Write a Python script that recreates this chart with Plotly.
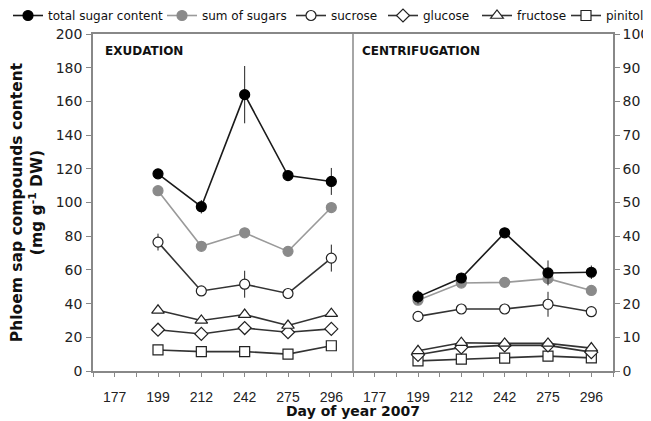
import plotly.graph_objects as go

days = [177, 199, 212, 242, 275, 296]
sample_days = [199, 212, 242, 275, 296]
series_names = ["total sugar content", "sum of sugars", "sucrose", "glucose", "fructose", "pinitol"]
panel_names = ["EXUDATION", "CENTRIFUGATION"]

# Exudation (left axis, mg g-1 DW)
exu_total = [117, 97.5, 164, 116, 112.5]
exu_total_err = [2, 4, 17, 2, 8]
exu_sum = [107, 74, 82, 71, 97]
exu_sucrose = [76.5, 47.5, 51.5, 46, 67]
exu_sucrose_err = [5, 2, 8, 3, 8]
exu_glucose = [24.5, 22, 25.5, 23, 25]
exu_fructose = [36, 30, 33.5, 27, 34]
exu_pinitol = [12.5, 11.5, 11.5, 10, 15]

# Centrifugation (right axis, mg g-1 DW)
cen_total = [22.0, 27.6, 41, 29.1, 29.3]
cen_total_err = [2, 1.5, 1, 3.7, 2]
cen_sum = [21.0, 26.1, 26.3, 27.4, 23.9]
cen_sucrose = [16.2, 18.4, 18.4, 19.8, 17.6]
cen_sucrose_err = [0.8, 1, 1.5, 3.7, 0.8]
cen_glucose = [4.8, 7.0, 7.6, 7.6, 5.6]
cen_fructose = [6.0, 8.4, 8.2, 8.2, 6.8]
cen_pinitol = [3.0, 3.5, 3.8, 4.4, 3.9]

exu = [exu_total, exu_sum, exu_sucrose, exu_glucose, exu_fructose, exu_pinitol]
cen = [cen_total, cen_sum, cen_sucrose, cen_glucose, cen_fructose, cen_pinitol]
exu_err = [exu_total_err, None, exu_sucrose_err, None, None, None]
cen_err = [cen_total_err, None, cen_sucrose_err, None, None, None]

styles = [
    dict(symbol="circle", color="black", fill="black", line="#1a1a1a", size=10),
    dict(symbol="circle", color="#8a8a8a", fill="#8a8a8a", line="#9a9a9a", size=10),
    dict(symbol="circle", color="#222", fill="white", line="#333", size=10),
    dict(symbol="diamond", color="#222", fill="white", line="#333", size=10),
    dict(symbol="triangle-up", color="#222", fill="white", line="#333", size=11),
    dict(symbol="square", color="#222", fill="white", line="#333", size=10),
]

# category positions: left panel 0..5, right panel 6..11
left_x = [days.index(d) for d in sample_days]
right_x = [len(days) + days.index(d) for d in sample_days]

W, H = 651, 421
ML, MR, MT, MB = 85, 46, 26, 58
legend_x_px = [0, 154, 283, 375, 469, 558]

fig = go.Figure()
order = [5, 3, 4, 2, 1, 0]
for i in order:
    st = styles[i]
    marker = dict(symbol=st["symbol"], size=st["size"], color=st["fill"],
                  line=dict(color=st["color"], width=1.2))
    lg = "legend" if i == 0 else f"legend{i+1}"
    for panel, (xs, ys, errs, yax) in enumerate([(left_x, exu[i], exu_err[i], "y"),
                                                   (right_x, cen[i], cen_err[i], "y2")]):
        fig.add_trace(go.Scatter(
            x=xs, y=ys, mode="lines+markers", name=series_names[i],
            yaxis=yax, legend=lg, showlegend=(panel == 0),
            line=dict(color=st["line"], width=1.6),
            marker=marker,
            error_y=dict(type="data", array=errs, visible=errs is not None,
                         color="#222", thickness=1, width=0),
        ))

font_family = "DejaVu Sans, Verdana, sans-serif"
arial = "Liberation Sans, Arial, sans-serif"
pw = W - ML - MR
ph = H - MT - MB
layout_legends = {}
for i in range(6):
    key = "legend" if i == 0 else f"legend{i+1}"
    layout_legends[key] = dict(
        x=(legend_x_px[i] - ML) / pw, xref="paper", xanchor="left",
        y=1 + (MT + 7) / ph, yref="paper", yanchor="top",
        orientation="h", bgcolor="rgba(0,0,0,0)",
        font=dict(family=font_family, size=12, color="#111"),
        itemwidth=30,
    )

fig.update_layout(
    width=W, height=H,
    margin=dict(l=ML, r=MR, t=MT, b=MB, autoexpand=False),
    paper_bgcolor="white", plot_bgcolor="white",
    font=dict(family=font_family, color="#222"),
    xaxis=dict(
        range=[-0.5, 11.5],
        tickvals=list(range(12)), ticktext=[str(d) for d in days] * 2,
        ticks="outside", ticklen=4, tickcolor="#888",
        minor=dict(tickvals=[k + 0.5 for k in range(-1, 12)], ticks="outside",
                   ticklen=4, tickcolor="#888"),
        showline=True, linecolor="#888", linewidth=1.5, mirror=True,
        showgrid=False, zeroline=False,
        tickfont=dict(family=arial, size=14, color="#222"),
        ticklabelstandoff=8,
    ),
    yaxis=dict(
        range=[0, 200], dtick=20, ticks="outside", ticklen=5, tickcolor="#888",
        showline=True, linecolor="#888", linewidth=1.5,
        showgrid=False, zeroline=False,
        tickfont=dict(size=14, color="#222"),
        ticklabelstandoff=1,
        title=dict(text="<b>Phloem sap compounds content<br>(mg g<sup>-1</sup> DW)</b>",
                   font=dict(size=15.5, color="#111"), standoff=14),
    ),
    yaxis2=dict(
        range=[0, 100], dtick=10, overlaying="y", side="right",
        ticks="outside", ticklen=5, tickcolor="#888",
        showline=True, linecolor="#888", linewidth=1.5,
        showgrid=False, zeroline=False,
        tickfont=dict(size=14, color="#222"),
    ),
    **layout_legends,
)

fig.add_shape(type="line", xref="x", yref="paper", x0=5.5, x1=5.5, y0=0, y1=1,
              line=dict(color="#888", width=1.5))

fig.add_annotation(text=f"<b>{panel_names[0]}</b>", xref="x", yref="paper",
                   x=-0.27, y=0.95, xanchor="left", yanchor="middle", showarrow=False,
                   font=dict(size=12, color="#111"))
fig.add_annotation(text=f"<b>{panel_names[1]}</b>", xref="x", yref="paper",
                   x=5.67, y=0.95, xanchor="left", yanchor="middle", showarrow=False,
                   font=dict(size=12, color="#111"))
fig.add_annotation(text="<b>Day of year 2007</b>", xref="paper", yref="paper",
                   x=0.5, y=-0.118, xanchor="center", yanchor="middle", showarrow=False,
                   font=dict(size=14, color="#111"))

fig.write_html("out.html")
